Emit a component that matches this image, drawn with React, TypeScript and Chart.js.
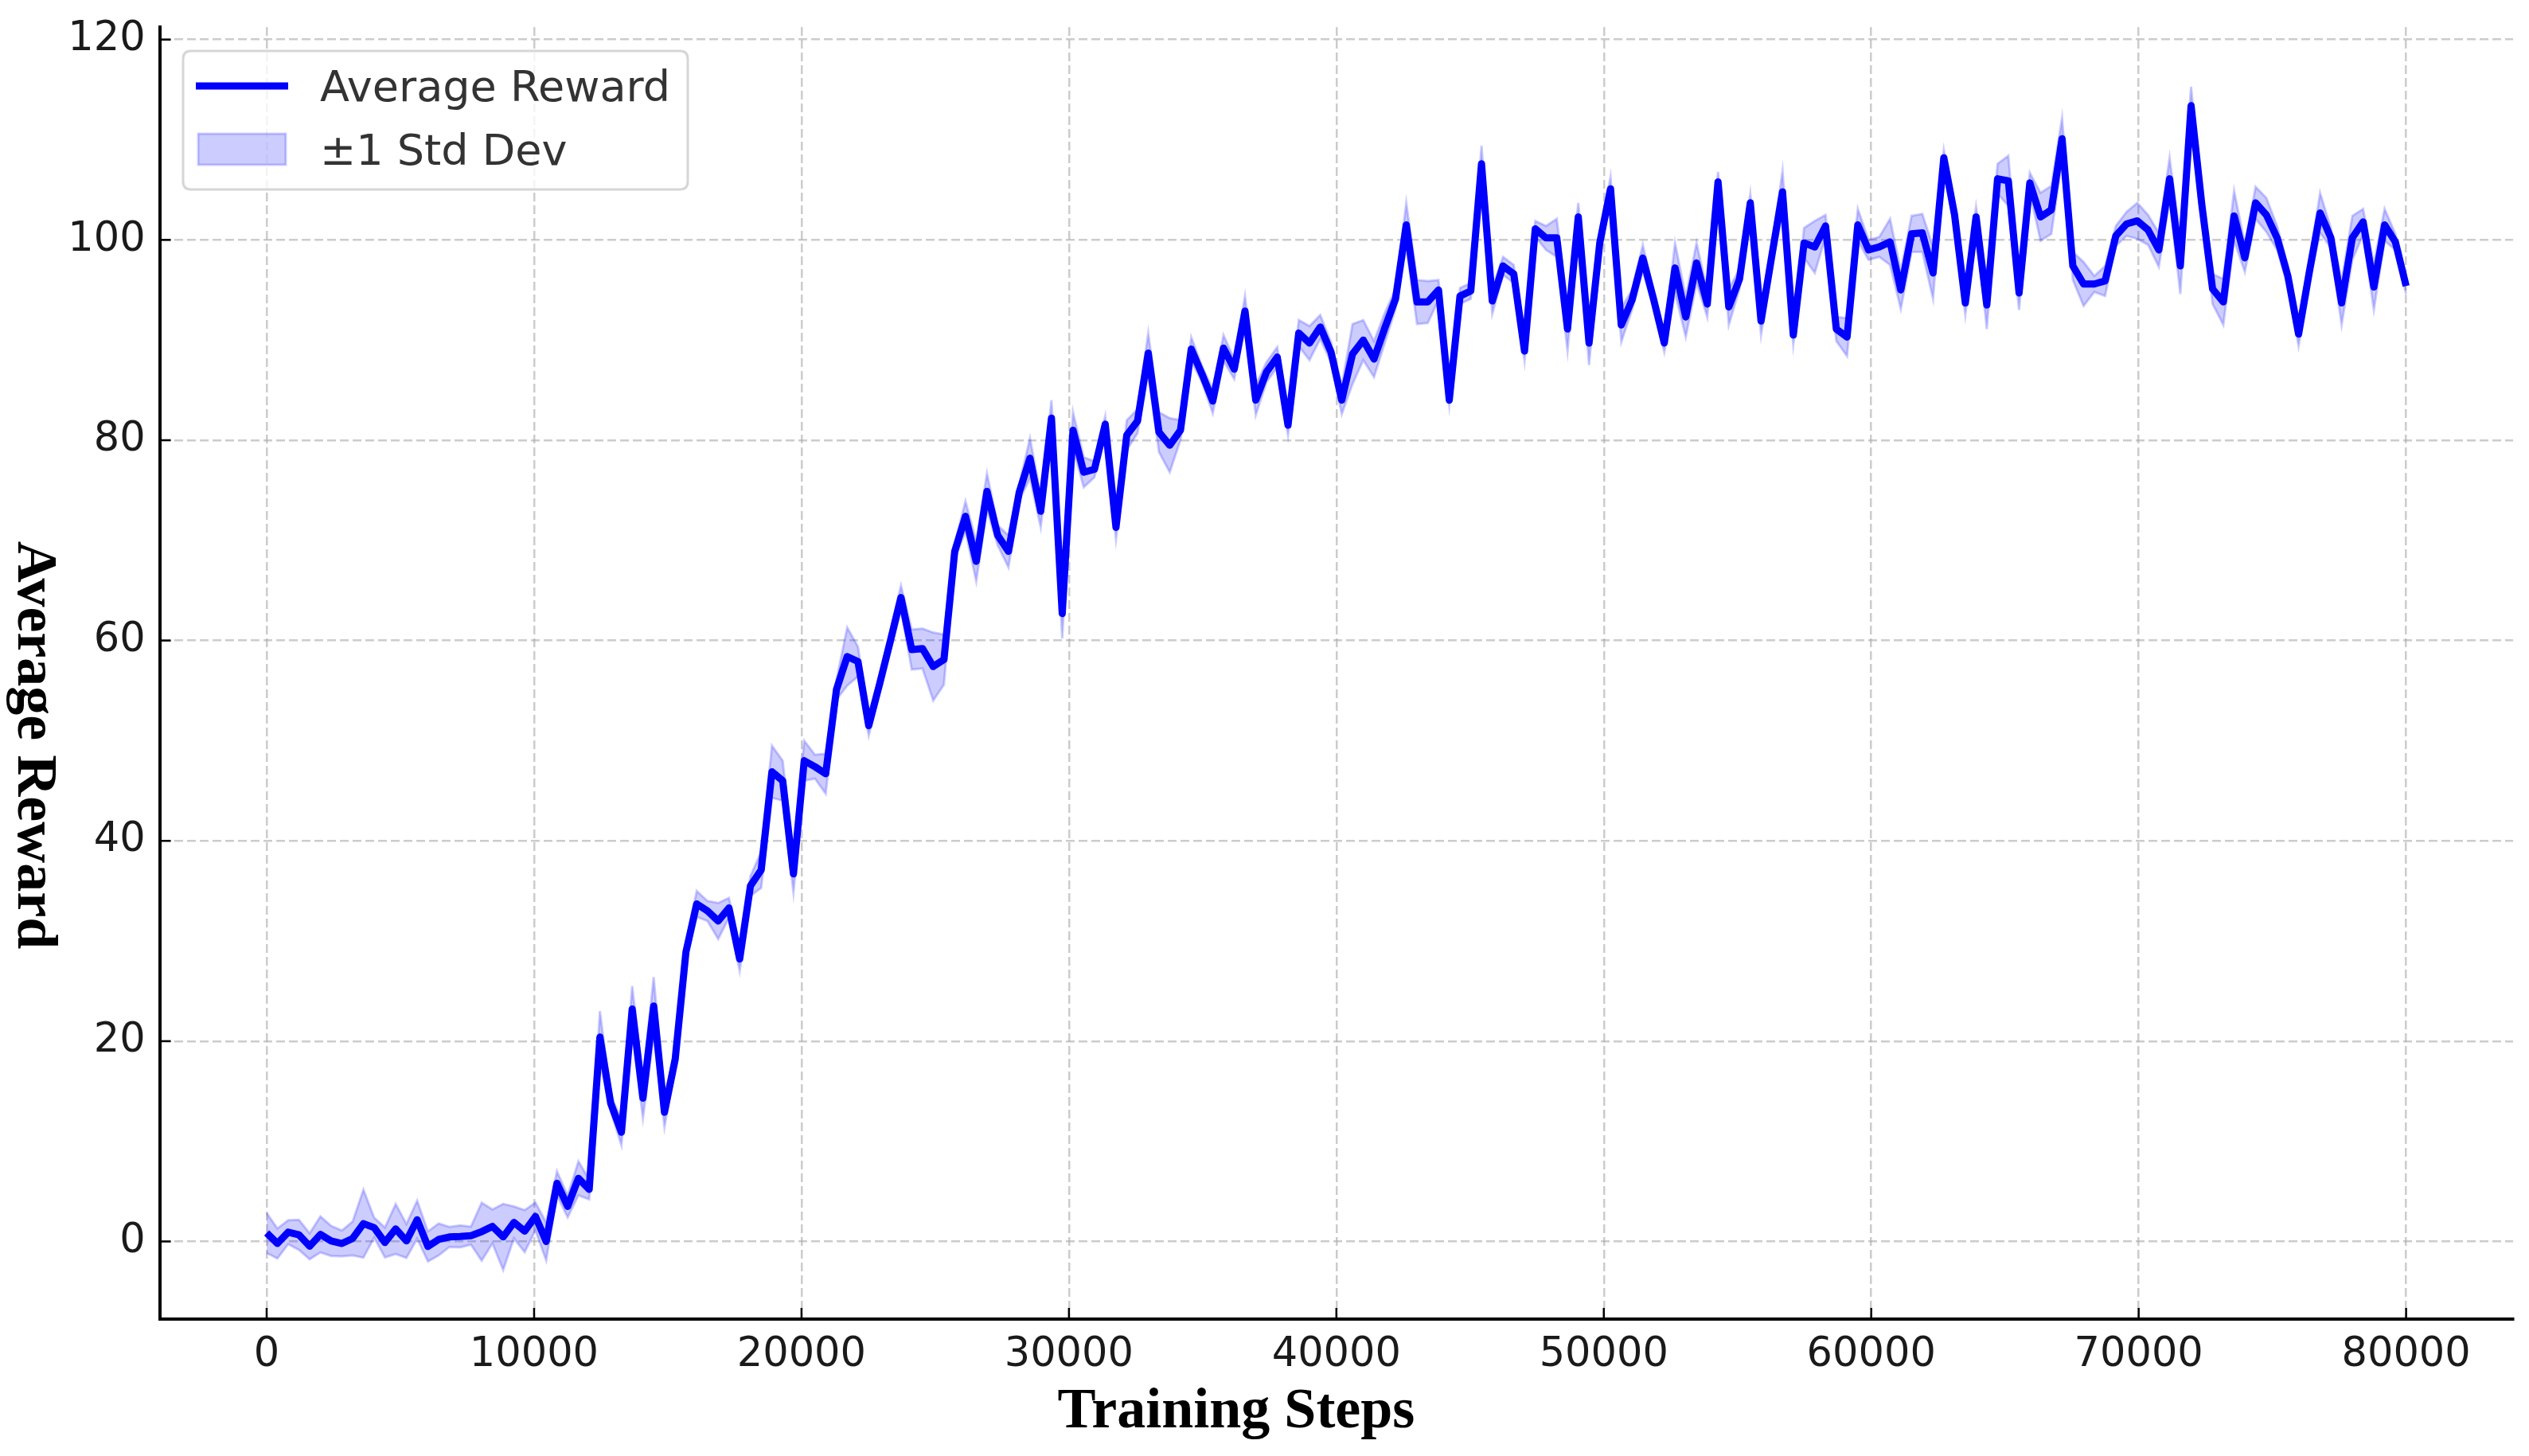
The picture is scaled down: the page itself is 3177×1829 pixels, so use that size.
import React, { useEffect, useRef } from "react";
import { Chart, registerables } from "chart.js";

Chart.register(...registerables);

const WIDTH = 3177;
const HEIGHT = 1829;

const STEP_COUNT = 200;
const MAX_STEP = 80000;
const trainingSteps = Array.from({ length: STEP_COUNT }, (_, i) => (i * MAX_STEP) / (STEP_COUNT - 1));

const rewardMean = [
  0.85, -0.2, 0.93, 0.66, -0.48, 0.7, 0.05, -0.2, 0.3, 1.78,
  1.38, -0.1, 1.25, 0.05, 2.17, -0.5, 0.2, 0.45, 0.5, 0.58,
  0.98, 1.5, 0.45, 1.9, 1.03, 2.5, 0.0, 5.8, 3.5, 6.3,
  5.2, 20.4, 13.8, 10.9, 23.2, 14.3, 23.5, 12.9, 18.2, 28.9,
  33.7, 33.0, 32.0, 33.3, 28.2, 35.5, 37.1, 46.9, 46.0, 36.7,
  48.0, 47.4, 46.7, 55.1, 58.4, 57.9, 51.5, 55.6, 59.9, 64.3,
  59.1, 59.2, 57.4, 58.1, 68.9, 72.4, 67.9, 74.9, 70.5, 68.9,
  74.8, 78.2, 72.9, 82.2, 62.7, 81.0, 76.8, 77.1, 81.6, 71.3,
  80.5, 81.9, 88.7, 80.8, 79.5, 81.0, 89.1, 86.6, 83.9, 89.2,
  87.1, 92.9, 84.0, 86.8, 88.3, 81.5, 90.7, 89.7, 91.3, 88.8,
  84.0, 88.6, 90.0, 88.1, 91.2, 94.1, 101.5, 93.8, 93.8, 95.0,
  84.0, 94.4, 94.9, 107.6, 93.9, 97.4, 96.6, 88.9, 101.1, 100.2,
  100.2, 91.1, 102.3, 89.7, 99.7, 105.1, 91.5, 94.0, 98.2, 94.1,
  89.7, 97.2, 92.3, 97.7, 93.6, 105.8, 93.3, 96.1, 103.7, 91.9,
  98.4, 104.8, 90.5, 99.7, 99.3, 101.4, 91.1, 90.3, 101.5, 99.0,
  99.3, 99.8, 95.0, 100.6, 100.7, 96.7, 108.2, 102.5, 93.7, 102.3,
  93.5, 106.1, 105.9, 94.7, 105.7, 102.3, 103.0, 110.1, 97.4, 95.6,
  95.6, 95.9, 100.4, 101.6, 101.9, 101.0, 99.0, 106.1, 97.4, 113.4,
  103.5, 95.1, 93.8, 102.4, 98.2, 103.7, 102.5, 100.2, 96.4, 90.6,
  96.8, 102.7, 100.2, 93.7, 100.2, 101.8, 95.3, 101.5, 99.8, 95.4,
];

const rewardStd = [
  2.0, 1.5, 1.2, 1.5, 1.3, 1.8, 1.5, 1.3, 1.7, 3.4,
  1.0, 1.5, 2.5, 1.7, 1.9, 1.5, 1.6, 1.0, 1.1, 0.9,
  2.9, 1.7, 3.3, 1.6, 2.1, 1.4, 1.9, 1.2, 1.1, 1.7,
  1.0, 2.6, 0.8, 1.3, 2.3, 2.0, 2.9, 1.5, 0.8, 0.8,
  1.3, 1.0, 1.8, 1.0, 1.2, 1.0, 1.8, 2.6, 2.0, 1.9,
  2.0, 1.2, 2.0, 1.0, 2.9, 1.5, 1.0, 0.8, 1.0, 1.2,
  2.0, 2.0, 3.4, 2.5, 0.8, 1.5, 2.0, 1.8, 1.0, 1.6,
  0.8, 2.0, 1.6, 1.8, 2.5, 1.8, 1.5, 0.8, 0.8, 1.2,
  1.5, 1.2, 2.0, 2.0, 2.7, 1.0, 1.2, 0.8, 1.2, 1.3,
  1.0, 1.5, 1.5, 1.0, 1.0, 1.0, 1.3, 1.7, 1.2, 1.0,
  1.4, 3.0, 2.0, 1.8, 1.5, 1.0, 2.2, 2.2, 2.1, 1.0,
  0.5, 0.8, 0.8, 1.8, 1.3, 0.9, 0.9, 1.0, 0.8, 1.2,
  1.9, 2.2, 1.4, 2.2, 0.8, 1.2, 1.7, 1.0, 1.3, 0.8,
  0.9, 2.5, 2.0, 2.0, 1.3, 1.0, 1.8, 1.0, 0.9, 1.4,
  1.0, 2.1, 1.0, 1.5, 2.6, 1.1, 1.2, 1.9, 1.6, 1.0,
  1.0, 2.3, 1.9, 1.8, 1.9, 2.6, 0.8, 1.0, 1.2, 1.0,
  2.4, 1.5, 2.5, 1.7, 1.0, 2.4, 2.4, 2.1, 1.4, 2.2,
  0.8, 1.5, 1.0, 1.2, 1.8, 1.5, 1.7, 2.1, 2.8, 1.9,
  1.0, 1.5, 2.3, 2.5, 1.4, 1.6, 1.7, 1.2, 1.0, 1.2,
  1.0, 2.0, 1.0, 2.2, 2.2, 1.3, 2.3, 1.6, 0.8, 0.8,
];

const xTicks = [0, 10000, 20000, 30000, 40000, 50000, 60000, 70000, 80000];
const yTicks = [0, 20, 40, 60, 80, 100, 120];

const X_MIN = -4000;
const X_MAX = 84000;
const Y_MIN = -7.75;
const Y_MAX = 121.25;

const X_TITLE = "Training Steps";
const Y_TITLE = "Average Reward";
const LEGEND_LINE = "Average Reward";
const LEGEND_BAND = "\u00b11 Std Dev";

const LINE_BLUE = "#0000ff";
const BAND_FILL = "rgba(0,0,255,0.2)";
const GRID_COLOR = "rgba(170,170,170,0.6)";
const TICK_FONT = "DejaVu Sans";
const TITLE_FONT = "'Liberation Serif', 'Times New Roman', serif";

const decorPlugin = {
  id: "decor",
  afterDatasetsDraw(chart: any) {
    const ctx = chart.ctx as CanvasRenderingContext2D;
    const area = chart.chartArea;
    const xs = chart.scales.x;
    const ys = chart.scales.y;
    ctx.save();
    ctx.strokeStyle = "#000";
    ctx.lineWidth = 2.5;
    for (const v of xTicks) {
      const px = xs.getPixelForValue(v);
      ctx.beginPath();
      ctx.moveTo(px, area.bottom);
      ctx.lineTo(px, area.bottom - 14);
      ctx.stroke();
    }
    for (const v of yTicks) {
      const py = ys.getPixelForValue(v);
      ctx.beginPath();
      ctx.moveTo(area.left, py);
      ctx.lineTo(area.left + 14, py);
      ctx.stroke();
    }
    ctx.restore();
  },
  afterDraw(chart: any) {
    const ctx = chart.ctx as CanvasRenderingContext2D;
    ctx.save();
    ctx.fillStyle = "#000";
    ctx.font = `bold 72px ${TITLE_FONT}`;
    ctx.textAlign = "center";
    ctx.textBaseline = "alphabetic";
    ctx.fillText(X_TITLE, 1553, 1793);
    ctx.save();
    ctx.translate(23, 936);
    ctx.rotate(Math.PI / 2);
    ctx.fillText(Y_TITLE, 0, 0);
    ctx.restore();

    const bx = 230, by = 64, bw = 634, bh = 174, r = 10;
    ctx.beginPath();
    ctx.moveTo(bx + r, by);
    ctx.lineTo(bx + bw - r, by);
    ctx.quadraticCurveTo(bx + bw, by, bx + bw, by + r);
    ctx.lineTo(bx + bw, by + bh - r);
    ctx.quadraticCurveTo(bx + bw, by + bh, bx + bw - r, by + bh);
    ctx.lineTo(bx + r, by + bh);
    ctx.quadraticCurveTo(bx, by + bh, bx, by + bh - r);
    ctx.lineTo(bx, by + r);
    ctx.quadraticCurveTo(bx, by, bx + r, by);
    ctx.closePath();
    ctx.fillStyle = "rgba(255,255,255,0.8)";
    ctx.fill();
    ctx.strokeStyle = "#d6d6d6";
    ctx.lineWidth = 3;
    ctx.stroke();

    ctx.strokeStyle = LINE_BLUE;
    ctx.lineWidth = 9;
    ctx.beginPath();
    ctx.moveTo(246, 108);
    ctx.lineTo(362, 108);
    ctx.stroke();

    ctx.fillStyle = BAND_FILL;
    ctx.fillRect(249, 168, 110, 39);
    ctx.strokeStyle = BAND_FILL;
    ctx.lineWidth = 3;
    ctx.strokeRect(249, 168, 110, 39);

    ctx.fillStyle = "#333";
    ctx.font = `54px ${TICK_FONT}`;
    ctx.textAlign = "left";
    ctx.textBaseline = "alphabetic";
    ctx.fillText(LEGEND_LINE, 402, 127);
    ctx.fillText(LEGEND_BAND, 402, 207);
    ctx.restore();
  },
};

export default function App() {
  const canvasRef = useRef<HTMLCanvasElement | null>(null);

  useEffect(() => {
    const canvas = canvasRef.current;
    if (!canvas) return;
    const meanPts = trainingSteps.map((x, i) => ({ x, y: rewardMean[i] }));
    const upperPts = trainingSteps.map((x, i) => ({ x, y: rewardMean[i] + rewardStd[i] }));
    const lowerPts = trainingSteps.map((x, i) => ({ x, y: rewardMean[i] - rewardStd[i] }));

    const chart = new Chart(canvas, {
      type: "line",
      data: {
        datasets: [
          {
            label: LEGEND_LINE,
            data: meanPts,
            borderColor: LINE_BLUE,
            borderWidth: 9,
            pointRadius: 0,
            tension: 0,
            fill: false,
            borderJoinStyle: "round",
          },
          {
            label: LEGEND_BAND,
            data: upperPts,
            borderColor: BAND_FILL,
            backgroundColor: BAND_FILL,
            borderWidth: 3,
            pointRadius: 0,
            tension: 0,
            fill: "+1",
          },
          {
            label: "lower",
            data: lowerPts,
            borderColor: BAND_FILL,
            borderWidth: 3,
            pointRadius: 0,
            tension: 0,
            fill: false,
          },
        ],
      },
      options: {
        responsive: false,
        animation: false,
        devicePixelRatio: 1,
        parsing: false,
        normalized: true,
        layout: { padding: { left: 0, top: 34, right: 20, bottom: 0 } },
        plugins: {
          legend: { display: false },
          tooltip: { enabled: false },
          title: { display: false },
        },
        scales: {
          x: {
            type: "linear",
            min: X_MIN,
            max: X_MAX,
            afterBuildTicks: (s: any) => {
              s.ticks = xTicks.map((v) => ({ value: v }));
            },
            afterFit: (s: any) => {
              s.height = 172;
              s.paddingLeft = 0;
              s.paddingRight = 0;
              s.paddingTop = 0;
              s.paddingBottom = 0;
            },
            grid: { color: GRID_COLOR, lineWidth: 2.5, drawTicks: false },
            border: { display: true, color: "#000", width: 4, dash: [11, 5] },
            ticks: {
              padding: 15,
              color: "#1a1a1a",
              font: { family: TICK_FONT, size: 51 },
              maxRotation: 0,
              autoSkip: false,
              callback: (v: any) => String(v),
            },
          },
          y: {
            type: "linear",
            min: Y_MIN,
            max: Y_MAX,
            afterBuildTicks: (s: any) => {
              s.ticks = yTicks.map((v) => ({ value: v }));
            },
            afterFit: (s: any) => {
              s.width = 200.6;
              s.paddingLeft = 0;
              s.paddingRight = 0;
              s.paddingTop = 0;
              s.paddingBottom = 0;
            },
            grid: { color: GRID_COLOR, lineWidth: 2.5, drawTicks: false },
            border: { display: true, color: "#000", width: 4, dash: [11, 5] },
            ticks: {
              padding: 18,
              color: "#1a1a1a",
              font: { family: TICK_FONT, size: 51 },
              autoSkip: false,
              callback: (v: any) => String(v),
            },
          },
        },
      },
      plugins: [decorPlugin],
    } as any);

    return () => chart.destroy();
  }, []);

  return (
    <div style={{ position: "absolute", left: 0, top: 0, width: WIDTH, height: HEIGHT, background: "#fff" }}>
      <canvas ref={canvasRef} width={WIDTH} height={HEIGHT} style={{ width: WIDTH, height: HEIGHT, display: "block" }} />
    </div>
  );
}
